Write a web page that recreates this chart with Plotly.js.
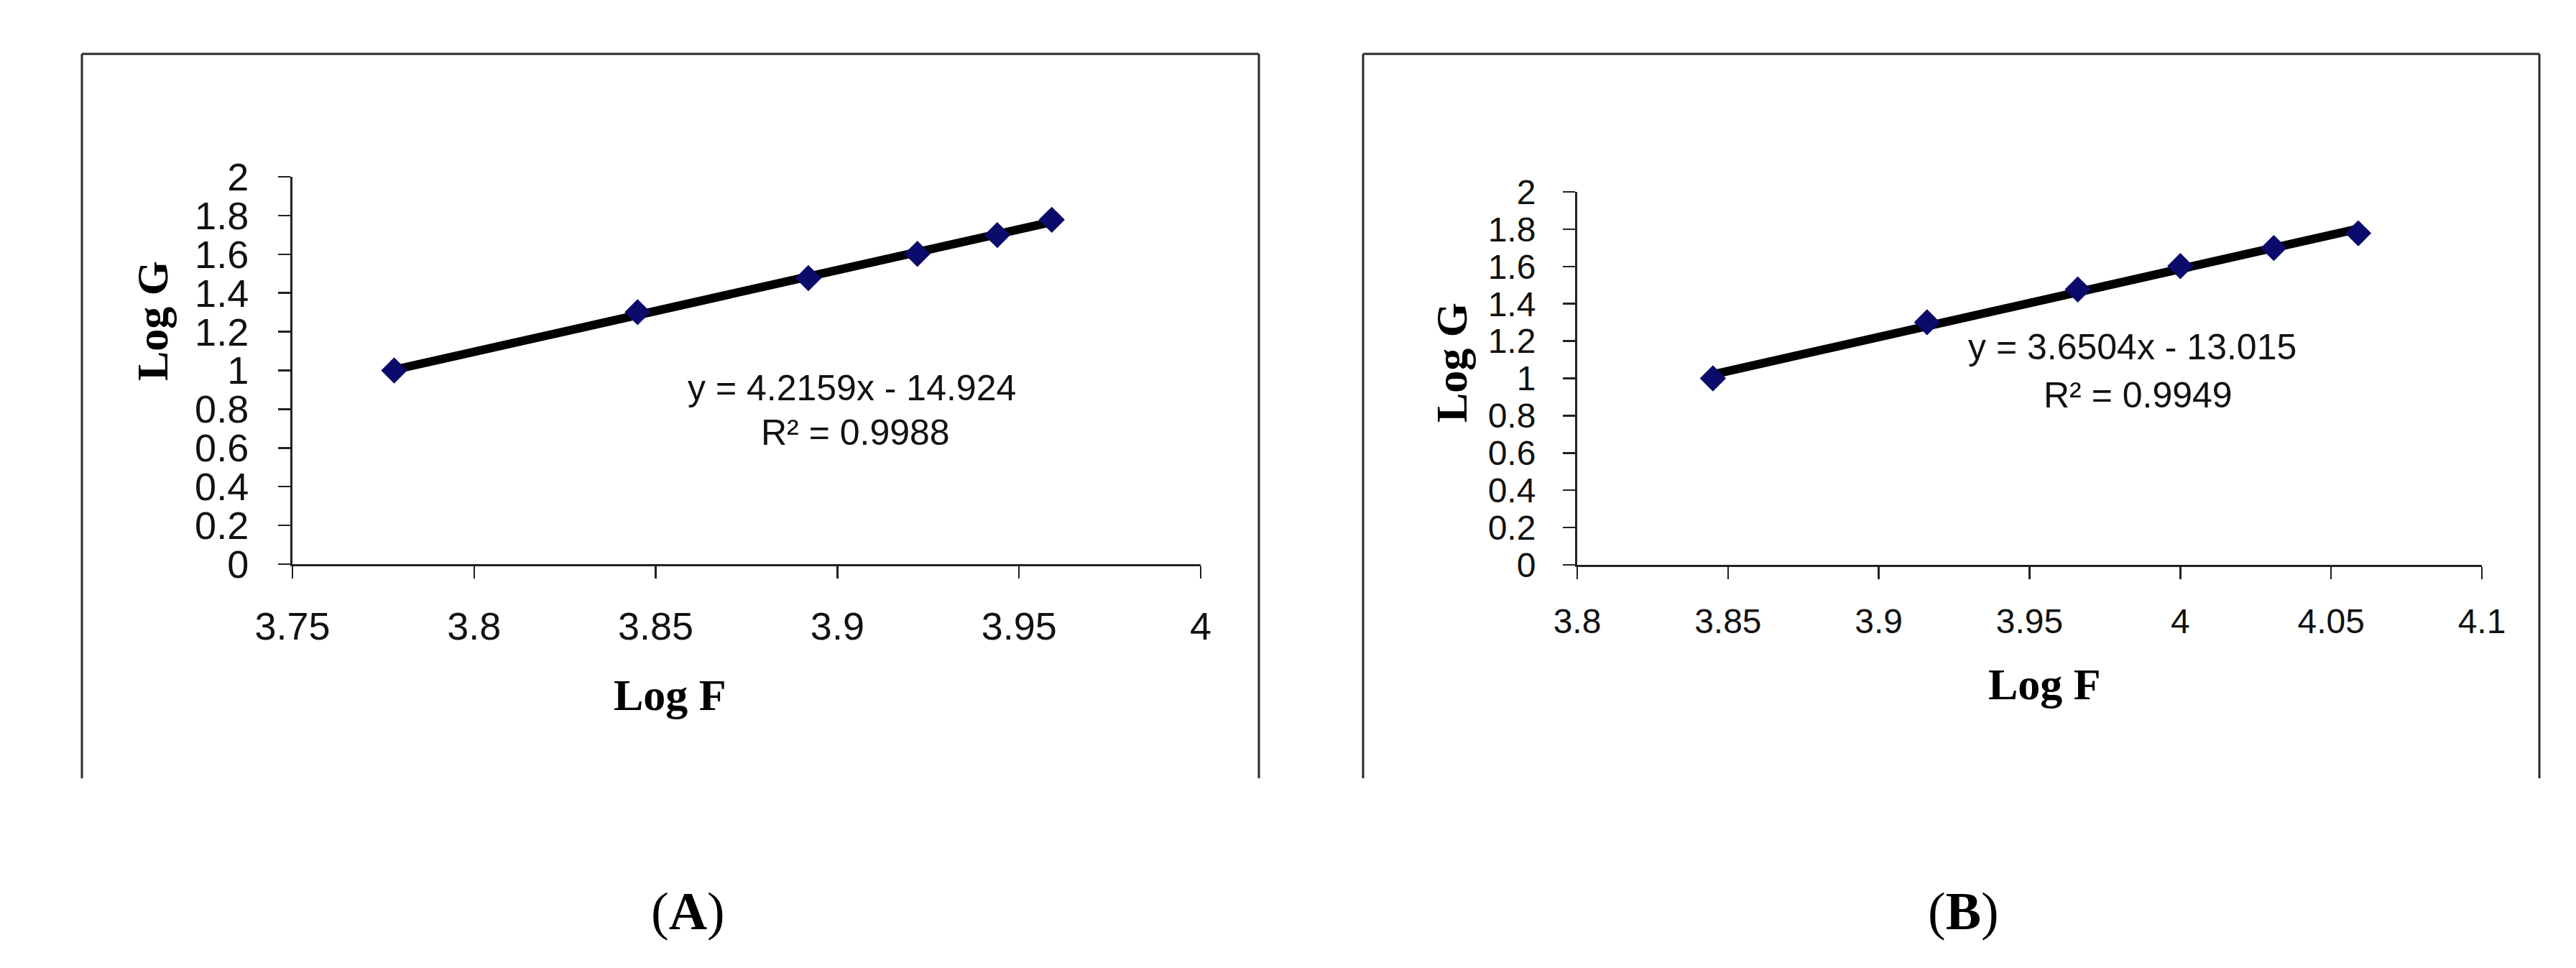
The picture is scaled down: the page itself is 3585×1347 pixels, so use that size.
<!DOCTYPE html>
<html>
<head>
<meta charset="utf-8">
<script src="https://cdn.plot.ly/plotly-3.0.1.min.js"></script>
<style>
  html, body { margin: 0; padding: 0; background: #fff; }
  #chart { width: 3585px; height: 1347px; }
</style>
</head>
<body>
<div id="chart"></div>
<script>
// Daten Panel A
const logF_A = [3.778, 3.845, 3.892, 3.922, 3.944, 3.959];
const logG_A = [1.0, 1.301, 1.477, 1.602, 1.699, 1.778];
const fitA = [4.2159, -14.924];   // Steigung, Achsenabschnitt
const eqA = ['y = 4.2159x - 14.924', 'R² = 0.9988'];

// Daten Panel B
const logF_B = [3.845, 3.916, 3.966, 4.0, 4.031, 4.059];
const logG_B = [1.0, 1.301, 1.477, 1.602, 1.699, 1.778];
const fitB = [3.6504, -13.015];
const eqB = ['y = 3.6504x - 13.015', 'R² = 0.9949'];

// Achsenbeschriftungen
const xTicksA = [3.75, 3.8, 3.85, 3.9, 3.95, 4];
const xTicksB = [3.8, 3.85, 3.9, 3.95, 4, 4.05, 4.1];
const yTicks = [0, 0.2, 0.4, 0.6, 0.8, 1, 1.2, 1.4, 1.6, 1.8, 2];
const panelLabels = ['A', 'B'];

// Pixel -> Papierkoordinaten
const W = 3585, H = 1347;
const px = v => v / W;
const py = v => 1 - v / H;

// Trendlinie aus Steigung/Achsenabschnitt über den Datenbereich
function trend(xs, fit) {
  const x0 = Math.min(...xs), x1 = Math.max(...xs);
  return { x: [x0, x1], y: [fit[0] * x0 + fit[1], fit[0] * x1 + fit[1]] };
}

const tA = trend(logF_A, fitA);
const tB = trend(logF_B, fitB);

const traces = [
  { x: tA.x, y: tA.y, xaxis: 'x', yaxis: 'y', mode: 'lines',
    line: { color: '#000', width: 12 }, showlegend: false, hoverinfo: 'skip' },
  { x: logF_A, y: logG_A, xaxis: 'x', yaxis: 'y', mode: 'markers',
    marker: { symbol: 'diamond', size: 28, color: '#0b0b6b' }, showlegend: false },
  { x: tB.x, y: tB.y, xaxis: 'x2', yaxis: 'y2', mode: 'lines',
    line: { color: '#000', width: 12 }, showlegend: false, hoverinfo: 'skip' },
  { x: logF_B, y: logG_B, xaxis: 'x2', yaxis: 'y2', mode: 'markers',
    marker: { symbol: 'diamond', size: 28, color: '#0b0b6b' }, showlegend: false }
];

function xAxis(dom, anchor, ticks, range, size, standoff) {
  return {
    domain: dom, anchor: anchor, range: range, tickvals: ticks, ticktext: ticks.map(String),
    showgrid: false, zeroline: false, showline: true, linecolor: '#222', linewidth: 3,
    ticks: 'outside', ticklen: 17, tickwidth: 2.5, tickcolor: '#222',
    ticklabelstandoff: standoff,
    tickfont: { family: 'Liberation Sans, Arial, sans-serif', size: size, color: '#111' }
  };
}
function yAxis(dom, anchor, size, standoff) {
  return {
    domain: dom, range: [0, 2], anchor: anchor, tickvals: yTicks, ticktext: yTicks.map(String),
    showgrid: false, zeroline: false, showline: true, linecolor: '#222', linewidth: 3,
    ticks: 'outside', ticklen: 17, tickwidth: 2.5, tickcolor: '#222',
    ticklabelstandoff: standoff,
    tickfont: { family: 'Liberation Sans, Arial, sans-serif', size: size, color: '#111' }
  };
}

const serif = { family: 'Liberation Serif, Times New Roman, serif', size: 62, color: '#000' };
const sans = { family: 'Liberation Sans, Arial, sans-serif', size: 50, color: '#111' };
const labelFont = { family: 'Liberation Serif, Times New Roman, serif', size: 74, color: '#000' };

function frame(x0, x1) {
  const c = { color: '#2a2a2a', width: 3 };
  return [
    { type: 'line', xref: 'paper', yref: 'paper', x0: px(x0), x1: px(x1), y0: py(75), y1: py(75), line: c },
    { type: 'line', xref: 'paper', yref: 'paper', x0: px(x0), x1: px(x0), y0: py(75), y1: py(1083), line: c },
    { type: 'line', xref: 'paper', yref: 'paper', x0: px(x1), x1: px(x1), y0: py(75), y1: py(1083), line: c }
  ];
}

function note(xref, yref, x, y, text, font, angle) {
  return { xref: xref, yref: yref, x: x, y: y, text: text, font: font,
    textangle: angle || 0, showarrow: false, xanchor: 'center', yanchor: 'middle' };
}

const annotations = [
  // Panel A
  note('paper', 'paper', px(932), py(967), '<b>Log F</b>', serif),
  note('paper', 'paper', px(212), py(447), '<b>Log G</b>', serif, -90),
  note('x', 'y', 3.904, 0.91, eqA[0], sans),
  note('x', 'y', 3.905, 0.68, eqA[1], sans),
  note('paper', 'paper', px(957), py(1268), '(<b>' + panelLabels[0] + '</b>)', labelFont),
  // Panel B
  note('paper', 'paper', px(2845), py(952), '<b>Log F</b>', serif),
  note('paper', 'paper', px(2020), py(505), '<b>Log G</b>', serif, -90),
  note('x2', 'y2', 3.984, 1.168, eqB[0], sans),
  note('x2', 'y2', 3.986, 0.91, eqB[1], sans),
  note('paper', 'paper', px(2732), py(1268), '(<b>' + panelLabels[1] + '</b>)', labelFont)
];

const layout = {
  width: W, height: H,
  margin: { l: 0, r: 0, t: 0, b: 0 },
  paper_bgcolor: '#fff', plot_bgcolor: '#fff',
  showlegend: false,
  xaxis: xAxis([px(407), px(1671)], 'y', xTicksA, [3.75, 4], 54, 20),
  yaxis: yAxis([py(785), py(246)], 'x', 54, 30),
  xaxis2: xAxis([px(2195), px(3454)], 'y2', xTicksB, [3.8, 4.1], 48, 17),
  yaxis2: yAxis([py(786), py(267)], 'x2', 48, 28),
  shapes: frame(114, 1752).concat(frame(1897, 3534)),
  annotations: annotations
};

Plotly.newPlot('chart', traces, layout, { displayModeBar: false, staticPlot: true });
</script>
</body>
</html>
